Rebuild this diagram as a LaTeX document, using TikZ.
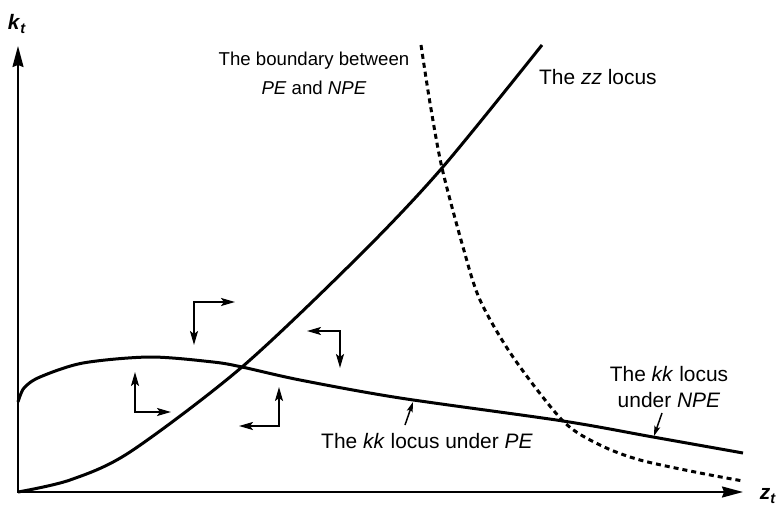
\documentclass[tikz,border=0pt]{standalone}
\usepackage{fontspec}
\setmainfont{Liberation Sans}
\usetikzlibrary{arrows.meta}

\tikzset{
  axis/.style={line width=2bp,
    {Stealth[length=21bp,width=11bp,inset=2bp]}-{Stealth[length=21bp,width=11bp,inset=2bp]}},
  locus/.style={line width=3bp},
  bound/.style={line width=3bp, dash pattern=on 5bp off 4bp},
  field/.style={line width=2bp,
    {Stealth[length=14bp,width=8bp,inset=3bp]}-{Stealth[length=14bp,width=8bp,inset=3bp]}},
  pointer/.style={line width=1.5bp, -{Stealth[length=10bp,width=6bp,inset=2bp]}},
  lbl/.style={inner sep=0pt, align=center},
}

\begin{document}
\begin{tikzpicture}[x=1bp, y=-1bp,
    every node/.style={font=\fontsize{21}{27}\selectfont}]
  \useasboundingbox (0,0) rectangle (779,505);

  % axes
  \coordinate (O) at (18,492);
  \coordinate (ytop) at (18,46);
  \coordinate (xend) at (743,492);
  \draw[axis] (ytop) -- (O) -- (xend);
  \node[lbl] (kt) at (17,24) {\textbf{\textit{k}}\textsubscript{\textbf{\textit{t}}}};
  \node[lbl] (zt) at (768,496) {\textbf{\textit{z}}\textsubscript{\textbf{\textit{t}}}};

  % zz locus
  \draw[locus] plot[smooth] coordinates {(18,492)(70,480)(130,452)(242,367)
                                         (360,255)(442,168)(542,45)};
  % kk locus
  \draw[locus] plot[smooth] coordinates {(18,402)(24,388)(40,377)(83,363)(150,357)
                                         (213,362)(242,367)(300,380)(400,398)
                                         (563,421)(653,437)(743,453)};
  % boundary between PE and NPE
  \draw[bound] plot[smooth] coordinates {(421,45)(430,103)(442,168)(463,247)(480,300)
                                         (513,357)(563,421)(600,445)(640,460)
                                         (700,473)(743,481)};

  % arrows of motion
  \foreach \n/\x/\y/\h/\v in {1/194/302/41/43, 2/340/331/-33/37,
                              3/135/412/36/-40, 4/279/426/-40/-39} {
    \coordinate (c\n) at (\x,\y);
    \coordinate (h\n) at (\x+\h,\y);
    \coordinate (v\n) at (\x,\y+\v);
    \draw[field] (h\n) -- (c\n) -- (v\n);
  }

  % labels
  \node[lbl, font=\fontsize{18.7}{29}\selectfont] (bnd) at (314,73)
    {The boundary between\\\textit{PE} and \textit{NPE}};
  \node[lbl, anchor=west] (zz) at (539,77) {The \textit{zz} locus};
  \node[lbl] (kknpe) at (669,387) {The \textit{kk} locus\\under \textit{NPE}};
  \node[lbl] (kkpe) at (427,441) {The \textit{kk} locus under \textit{PE}};

  \coordinate (petail) at (405,425);
  \coordinate (petip) at (413,402);
  \draw[pointer] (petail) -- (petip);
  \coordinate (npetail) at (662,413);
  \coordinate (npetip) at (654,436);
  \draw[pointer] (npetail) -- (npetip);
\end{tikzpicture}
\end{document}
